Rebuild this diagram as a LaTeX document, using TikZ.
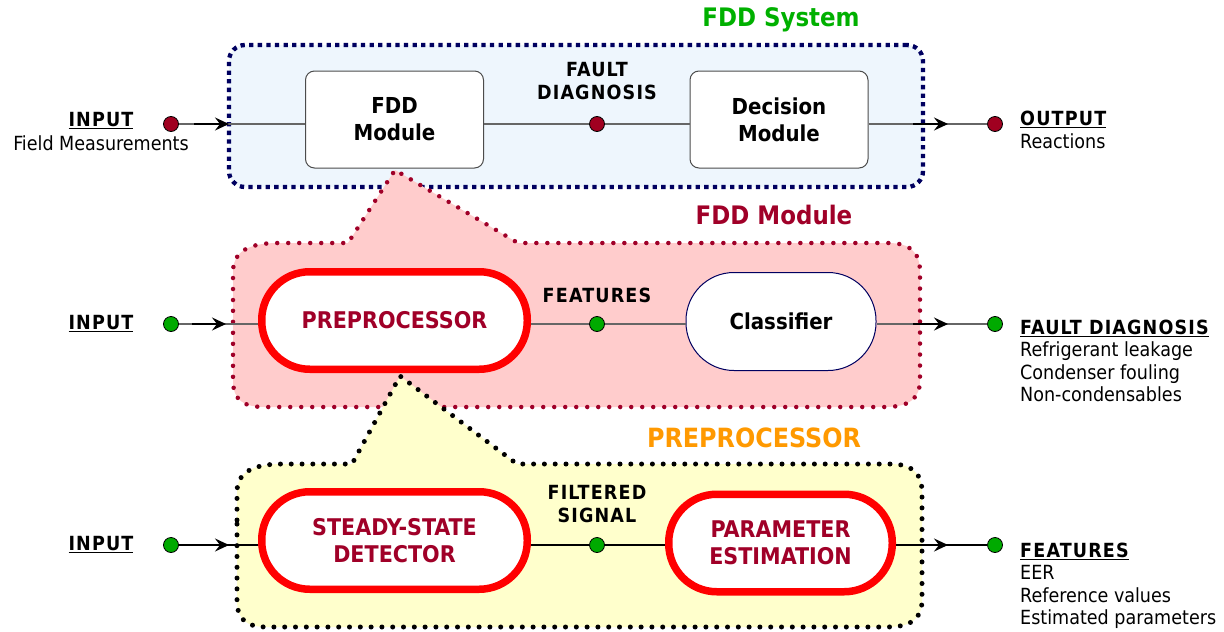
\documentclass[tikz,border=0pt]{standalone}
\usepackage{fontspec}
\setmainfont{DejaVuSansCondensed}[Extension=.ttf, BoldFont=DejaVuSansCondensed-Bold]
\newfontfamily\boldsp{DejaVuSansCondensed-Bold}[Extension=.ttf, LetterSpace=6]
\usetikzlibrary{arrows.meta,calc}
\definecolor{dred}{RGB}{160,0,40}
\definecolor{dotred}{RGB}{160,0,32}
\definecolor{dotgreen}{RGB}{0,170,0}
\definecolor{ttlgreen}{RGB}{0,176,0}
\definecolor{orng}{RGB}{255,153,0}
\definecolor{navy}{RGB}{0,0,96}
\definecolor{bfill}{RGB}{238,246,253}
\definecolor{pfill}{RGB}{255,204,204}
\definecolor{yfill}{RGB}{255,255,204}
\tikzset{
  ttl/.style={font=\bfseries\fontsize{25.5}{30}\selectfont, inner sep=0},
  lbl/.style={font=\boldsp\fontsize{19.5}{22.5}\selectfont, align=center, inner sep=0},
  side/.style={font=\fontsize{19.5}{22.5}\selectfont, align=left, anchor=west, inner sep=0},
  inlbl/.style={font=\fontsize{19.5}{24}\selectfont, align=center, inner sep=0},
  dotr/.style={circle, draw=black, line width=0.8pt, fill=dotred, minimum size=15pt, inner sep=0},
  dotg/.style={circle, draw=black, line width=0.8pt, fill=dotgreen, minimum size=15pt, inner sep=0},
  plainbox/.style={draw=black!70, line width=1pt, rounded corners=9pt, fill=white,
     minimum width=178pt, minimum height=97pt, align=center,
     font=\bfseries\fontsize{22}{27}\selectfont},
  pill/.style={draw=red, line width=7.5pt, fill=white, rounded corners=48pt,
     minimum height=97.5pt, align=center, text=dred,
     font=\bfseries\fontsize{23}{27}\selectfont},
  clsbox/.style={draw=navy, line width=1pt, fill=white, rounded corners=48pt,
     minimum width=190pt, minimum height=98pt,
     font=\bfseries\fontsize{22}{26}\selectfont},
  sysbox/.style={draw=navy, fill=bfill, line width=4.3pt, dash pattern=on 4.3pt off 4.3pt,
     rounded corners=16pt, minimum width=694pt, minimum height=142pt},
  wire/.style={draw=black!60, line width=1.2pt},
  bwire/.style={draw=black, line width=1.1pt},
  arr/.style={-{Stealth[length=14pt,width=13pt,inset=5pt]}, line width=2pt, black},
}
\begin{document}
\begin{tikzpicture}[x=1pt,y=-1pt]
\useasboundingbox (0,0) rectangle (1224,632);

% ---------- FDD System ----------
\node[ttl, text=ttlgreen] (tsys) at (781,20) {FDD System};
\node[sysbox] (sys) at (576,116) {};
\node[plainbox] (fdd) at (394.5,119.5) {FDD\\Module};
\node[plainbox] (dec) at (779,119.5) {Decision\\Module};
\node[dotr] (in1) at (171,124) {};
\node[dotr] (fd1) at (597,124) {};
\node[dotr] (out1) at (995,124) {};
\node[lbl] (lfd) at (597,81) {FAULT\\DIAGNOSIS};
\node[inlbl] (lin1) at (101,132) {\underline{\boldsp INPUT}\\Field Measurements};
\node[side] (lout1) at (1020,130) {\underline{\boldsp OUTPUT}\\Reactions};
\draw[wire] (in1) -- (in1 -| fdd.west);
\draw[wire] (fd1 -| fdd.east) -- (fd1);
\draw[wire] (fd1) -- (fd1 -| dec.west);
\draw[wire] (out1 -| dec.east) -- (out1);
\coordinate (a1s) at (194,124); \coordinate (a1e) at (229,124);
\coordinate (b1s) at (913,124); \coordinate (b1e) at (948,124);
\draw[arr] (a1s) -- (a1e);
\draw[arr] (b1s) -- (b1e);

% ---------- FDD Module ----------
\node[ttl, text=dred] (tmod) at (774,215) {FDD Module};
\path[draw=dred, fill=pfill, line width=4.5pt, line cap=round, dash pattern=on 0pt off 11pt]
  (233,300) -- (233,272) .. controls (233,252) and (248,243) .. (278,243) -- (348,243)
  -- (395,170) -- (518,243) -- (888,243) .. controls (910,243) and (920,252) .. (920,272)
  -- (920,380) .. controls (920,398) and (910,407) .. (885,407) -- (265,407)
  .. controls (243,407) and (233,400) .. (233,380) -- cycle;
\node[pill, minimum width=265.5pt] (pre) at (394.5,320.5) {PREPROCESSOR};
\node[clsbox] (cls) at (781,321.5) {Classifier};
\node[dotg] (in2) at (171,324) {};
\node[dotg] (ft2) at (597,324) {};
\node[dotg] (out2) at (995,324) {};
\node[lbl] (lft) at (597,295) {FEATURES};
\node[inlbl] (lin2) at (101,324) {\underline{\boldsp INPUT}};
\node[side] (lout2) at (1020,361) {\underline{\boldsp FAULT DIAGNOSIS}\\Refrigerant leakage\\Condenser fouling\\Non-condensables};
\draw[wire] (in2) -- (in2 -| pre.west);
\draw[wire] (ft2 -| pre.east) -- (ft2);
\draw[wire] (ft2) -- (ft2 -| cls.west);
\draw[wire] (out2 -| cls.east) -- (out2);
\coordinate (a2s) at (192,324); \coordinate (a2e) at (226,324);
\coordinate (b2s) at (913,324); \coordinate (b2e) at (948,324);
\draw[arr] (a2s) -- (a2e);
\draw[arr] (b2s) -- (b2e);

% ---------- Preprocessor ----------
\node[ttl, text=orng, font=\bfseries\fontsize{26.5}{30}\selectfont] (tpre) at (754,438) {PREPROCESSOR};
\path[draw=black, fill=yfill, line width=5pt, line cap=round, dash pattern=on 0pt off 10.8pt]
  (237,520) -- (237,492) .. controls (237,473) and (252,464) .. (282,464) -- (352,464)
  -- (400,376) -- (517,464) -- (890,464) .. controls (912,464) and (922,473) .. (922,492)
  -- (922,600) .. controls (922,618) and (912,627) .. (887,627) -- (267,627)
  .. controls (247,627) and (237,620) .. (237,600) -- cycle;
\node[pill, minimum width=265.5pt] (ssd) at (394.5,540.5) {STEADY-STATE\\DETECTOR};
\node[pill, minimum width=223.5pt] (pe) at (780.5,543) {PARAMETER\\ESTIMATION};
\node[dotg] (in3) at (171,545) {};
\node[dotg] (fs3) at (597,545) {};
\node[dotg] (out3) at (995,545) {};
\node[lbl] (lfs) at (597,504) {FILTERED\\SIGNAL};
\node[inlbl] (lin3) at (101,545) {\underline{\boldsp INPUT}};
\node[side] (lout3) at (1020,586) {\underline{\boldsp FEATURES}\\EER\\Reference values\\Estimated parameters};
\draw[bwire] (in3) -- (in3 -| ssd.west);
\draw[bwire] (fs3 -| ssd.east) -- (fs3);
\draw[bwire] (fs3) -- (fs3 -| pe.west);
\draw[bwire] (out3 -| pe.east) -- (out3);
\coordinate (a3s) at (194,545); \coordinate (a3e) at (229,545);
\coordinate (b3s) at (913,545); \coordinate (b3e) at (948,545);
\draw[arr] (a3s) -- (a3e);
\draw[arr] (b3s) -- (b3e);
\end{tikzpicture}
\end{document}
